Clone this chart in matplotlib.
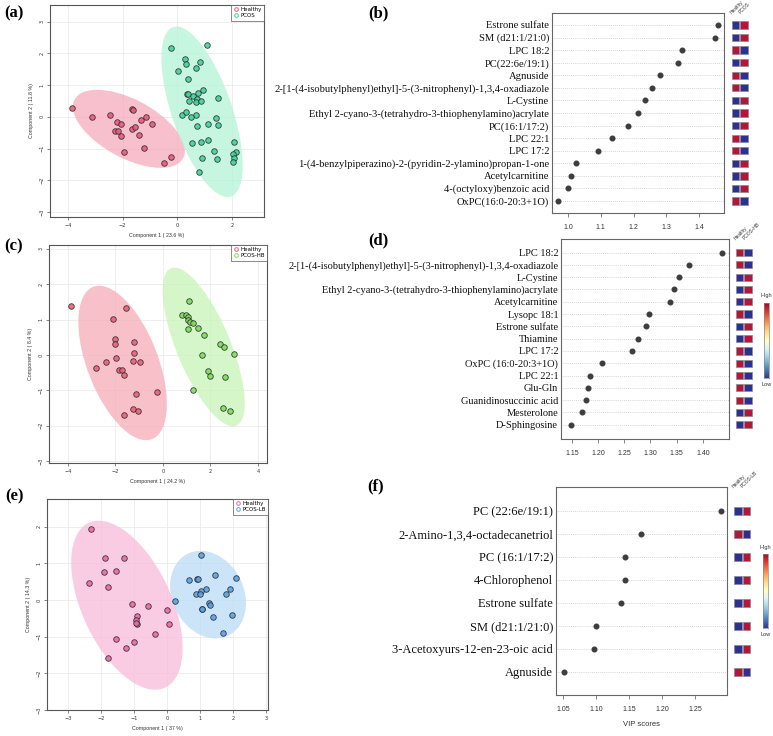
import numpy as np
import matplotlib.pyplot as plt
from matplotlib.patches import Ellipse
from matplotlib.lines import Line2D
from matplotlib.colors import ListedColormap

W, H = 773, 736
SERIF = 'Liberation Serif'
SANS = 'Liberation Sans'

# ---------------- data ----------------
# (a) Healthy vs PCOS
a_healthy_x = [-3.85, -3.12, -2.44, -2.20, -2.05, -2.29, -2.18, -2.06, -1.95, -1.67,
               -1.60, -1.67, -1.55, -1.39, -1.32, -1.13, -0.93, -1.23, -0.50, -0.22]
a_healthy_y = [0.27, -0.01, 0.07, -0.16, -0.23, -0.46, -0.46, -0.60, -1.11, 0.25,
               0.21, -0.38, -0.32, -0.57, -0.10, 0.01, -0.24, -0.97, -1.47, -1.28]
a_pcos_x = [-0.24, 1.07, 0.28, 0.32, 0.84, 0.68, 0.04, 0.38, 0.37, 0.41, 0.94, 0.77, 0.57,
            0.44, 0.72, 0.70, 0.87, 1.49, 0.18, 0.33, 0.70, 0.50, 1.41, 1.49, 1.11, 0.71,
            0.54, 0.88, 1.11, 2.06, 1.33, 1.44, 0.89, 2.13, 2.04, 2.06, 2.05, 0.79]
a_pcos_y = [2.17, 2.27, 1.82, 1.68, 1.74, 1.55, 1.44, 1.18, 0.73, 0.73, 0.85, 0.76, 0.67,
            0.51, 0.56, 0.46, 0.49, 0.60, 0.06, 0.16, 0.07, -0.02, -0.04, -0.26, -0.24, -0.28,
            -0.82, -0.80, -0.72, -0.78, -1.07, -1.32, -1.31, -1.11, -1.16, -1.29, -1.43, -1.74]

# (c) Healthy vs PCOS-HB
c_healthy_x = [-3.86, -1.57, -2.12, -2.01, -2.02, -1.23, -1.21, -1.99, -2.38, -2.82,
               -1.28, -0.98, -1.84, -1.71, -1.63, -1.14, -0.27, -1.26, -1.05, -1.63]
c_healthy_y = [1.38, 1.34, 1.02, 0.44, 0.31, 0.36, 0.05, -0.10, -0.20, -0.38,
               -0.17, -0.21, -0.43, -0.44, -0.58, -1.10, -1.06, -1.54, -1.58, -1.69]
c_hb_x = [1.08, 0.80, 0.98, 1.04, 1.05, 1.15, 1.26, 1.05, 1.49, 1.71,
          2.41, 2.55, 1.64, 2.97, 1.88, 1.96, 2.62, 1.26, 2.54, 2.83]
c_hb_y = [1.52, 1.12, 1.13, 1.07, 1.00, 0.94, 0.90, 0.74, 0.77, 0.55,
          0.31, 0.21, 0.00, 0.03, -0.45, -0.59, -0.64, -1.00, -1.51, -1.58]

# (e) Healthy vs PCOS-LB
e_healthy_x = [-2.32, -1.89, -1.32, -1.91, -1.56, -2.37, -1.80, -1.05, -0.58, 0.01,
               -0.90, -0.93, -0.92, -0.93, 0.05, -0.37, -1.54, -0.99, -1.24, -1.80]
e_healthy_y = [1.95, 1.15, 1.14, 0.77, 0.79, 0.46, 0.37, -0.10, -0.15, -0.27,
               -0.44, -0.55, -0.64, -0.62, -0.64, -0.92, -1.05, -1.15, -1.30, -1.59]
e_lb_x = [1.02, 0.66, 0.91, 0.94, 1.46, 2.10, 1.18, 1.04, 0.88, 0.99,
          1.91, 1.80, 0.23, 1.28, 1.29, 1.07, 1.05, 1.39, 1.96, 1.69]
e_lb_y = [1.22, 0.56, 0.57, 0.57, 0.69, 0.61, 0.29, 0.24, 0.16, 0.18,
          0.29, 0.16, -0.02, -0.09, -0.13, -0.24, -0.25, -0.47, -0.42, -0.91]

# (b) VIP, Healthy vs PCOS  (1 = high in that group)
b_names = ['Estrone sulfate', 'SM (d21:1/21:0)', 'LPC 18:2', 'PC(22:6e/19:1)', 'Agnuside',
           '2-[1-(4-isobutylphenyl)ethyl]-5-(3-nitrophenyl)-1,3,4-oxadiazole', 'L-Cystine',
           'Ethyl 2-cyano-3-(tetrahydro-3-thiophenylamino)acrylate', 'PC(16:1/17:2)',
           'LPC 22:1', 'LPC 17:2', '1-(4-benzylpiperazino)-2-(pyridin-2-ylamino)propan-1-one',
           'Acetylcarnitine', '4-(octyloxy)benzoic acid', 'OxPC(16:0-20:3+1O)']
b_vip = [1.459, 1.450, 1.348, 1.337, 1.282, 1.256, 1.235, 1.215, 1.184, 1.135,
         1.092, 1.023, 1.008, 0.999, 0.969]
b_healthy_high = [0, 0, 1, 0, 1, 1, 0, 0, 0, 1, 1, 0, 0, 0, 1]

# (d) VIP, Healthy vs PCOS-HB
d_names = ['LPC 18:2', '2-[1-(4-isobutylphenyl)ethyl]-5-(3-nitrophenyl)-1,3,4-oxadiazole',
           'L-Cystine', 'Ethyl 2-cyano-3-(tetrahydro-3-thiophenylamino)acrylate',
           'Acetylcarnitine', 'Lysopc 18:1', 'Estrone sulfate', 'Thiamine', 'LPC 17:2',
           'OxPC (16:0-20:3+1O)', 'LPC 22:1', 'Glu-Gln', 'Guanidinosuccinic acid',
           'Mesterolone', 'D-Sphingosine']
d_vip = [1.436, 1.373, 1.355, 1.345, 1.338, 1.297, 1.292, 1.277, 1.265, 1.207,
         1.184, 1.181, 1.176, 1.170, 1.148]
d_healthy_high = [1, 1, 0, 0, 0, 1, 0, 0, 1, 1, 1, 1, 1, 0, 0]

# (f) VIP, Healthy vs PCOS-LB
f_names = ['PC (22:6e/19:1)', '2-Amino-1,3,4-octadecanetriol', 'PC (16:1/17:2)',
           '4-Chlorophenol', 'Estrone sulfate', 'SM (d21:1/21:0)',
           '3-Acetoxyurs-12-en-23-oic acid', 'Agnuside']
f_vip = [1.289, 1.168, 1.144, 1.144, 1.137, 1.099, 1.097, 1.051]
f_healthy_high = [0, 1, 0, 0, 0, 0, 0, 1]


def box(x0, y0, x1, y1):
    return [x0 / W, 1 - y1 / H, (x1 - x0) / W, (y1 - y0) / H]


def conf_ellipse(ax, x, y, color):
    # 95% confidence ellipse from the group's scores
    x, y = np.asarray(x), np.asarray(y)
    vals, vecs = np.linalg.eigh(np.cov(x, y))
    order = vals.argsort()[::-1]
    vals, vecs = vals[order], vecs[:, order]
    angle = np.degrees(np.arctan2(vecs[1, 0], vecs[0, 0]))
    k = np.sqrt(5.991)
    ax.add_patch(Ellipse((x.mean(), y.mean()), 2 * k * np.sqrt(vals[0]), 2 * k * np.sqrt(vals[1]),
                         angle=angle, facecolor=color, edgecolor='none', alpha=0.75, zorder=1))


def pca_panel(rect, groups, xlabel, ylabel, xlim, ylim, xticks, yticks):
    ax = fig.add_axes(rect)
    handles = []
    for x, y, col, ecol, label in groups:
        conf_ellipse(ax, x, y, ecol)
        ax.scatter(x, y, s=16, facecolor=col, edgecolor='#2a2a2a', linewidths=0.6,
                   alpha=0.9, zorder=3)
        handles.append(Line2D([], [], ls='none', marker='o', ms=2.6, mfc='none',
                              mec=col, mew=0.7, label=label))
    ax.set_xlim(xlim)
    ax.set_ylim(ylim)
    ax.set_xticks(xticks)
    ax.set_yticks(yticks)
    ax.grid(color='#ebebeb', lw=0.6)
    ax.set_axisbelow(True)
    for s in ax.spines.values():
        s.set_color('#555555')
        s.set_linewidth(0.8)
    ax.tick_params(labelsize=3.6, length=2, width=0.5, color='#555555', pad=2,
                   labelcolor='#333333')
    for t in ax.get_yticklabels():
        t.set_rotation(90)
        t.set_va('center')
    ax.set_xlabel(xlabel, fontsize=3.8, family=SANS, color='#333333', labelpad=4)
    ax.set_ylabel(ylabel, fontsize=3.8, family=SANS, color='#333333', labelpad=4)
    leg = ax.legend(handles=handles, loc='upper right', bbox_to_anchor=(1, 1),
                    borderaxespad=0, fontsize=4, frameon=True, fancybox=False,
                    handletextpad=0.3, borderpad=0.4, labelspacing=0.2, handlelength=1.0)
    leg.get_frame().set_edgecolor('#555555')
    leg.get_frame().set_linewidth(0.6)
    return ax


def vip_panel(rect, heat_x0, names, vip, healthy_high, xlim, ylim, xticks, fmt, fs,
              header, cbar=None, xlabel=None):
    n = len(names)
    ypos = np.arange(n, 0, -1)
    ax = fig.add_axes(rect)
    ax.hlines(ypos, xlim[0], xlim[1], colors='#c8c8c8', linestyles=(0, (1, 1.5)), lw=0.6, zorder=1)
    ax.scatter(vip, ypos, s=11, color='#3d3d3d', zorder=3)
    ax.set_xlim(xlim)
    ax.set_ylim(ylim)
    ax.set_yticks(ypos)
    ax.set_yticklabels(names, family=SERIF, fontsize=fs, color='#111111')
    ax.tick_params(axis='y', length=0, pad=2)
    ax.set_xticks(xticks)
    ax.set_xticklabels([fmt % v for v in xticks], family=SANS, fontsize=5, color='#333333')
    ax.tick_params(axis='x', length=3, width=0.5, color='#555555', pad=5)
    for s in ax.spines.values():
        s.set_color('#666666')
        s.set_linewidth(0.8)
    if xlabel:
        ax.set_xlabel(xlabel, family=SANS, fontsize=5.5, color='#333333', labelpad=6)

    # group level squares
    pos = ax.get_position()
    hx = fig.add_axes([(heat_x0 - 4.3) / W, pos.y0, 18 / W, pos.height])
    cmap = ListedColormap(['#2a3192', '#b3163a'])
    hh = np.array(healthy_high)
    for col, vals in enumerate([hh, 1 - hh]):
        hx.scatter(np.full(n, col), ypos, c=vals, cmap=cmap, vmin=0, vmax=1, marker='s',
                   s=27, edgecolors='#8a8a8a', linewidths=0.5)
    hx.set_xlim(-0.5, 1.6)
    hx.set_ylim(ylim)
    hx.axis('off')
    tr = hx.get_xaxis_transform()
    for i, lab in enumerate(['Healthy', header]):
        hx.text(i - 0.35, 0.99, lab, transform=tr, rotation=45, rotation_mode='anchor',
                ha='left', va='bottom', fontsize=3.5, family=SANS, color='#333333')

    if cbar:
        cax = fig.add_axes(box(*cbar))
        cax.imshow(np.linspace(0, 1, 256).reshape(-1, 1), aspect='auto', cmap='RdYlBu_r',
                   origin='lower')
        cax.set_xticks([])
        cax.set_yticks([])
        for s in cax.spines.values():
            s.set_color('#888888')
            s.set_linewidth(0.5)
        cax.text(0.5, 1.06, 'High', transform=cax.transAxes, ha='center', va='bottom',
                 fontsize=4, family=SANS, color='#333333')
        cax.text(0.5, -0.06, 'Low', transform=cax.transAxes, ha='center', va='top',
                 fontsize=4, family=SANS, color='#333333')
    return ax


fig = plt.figure(figsize=(W / 100, H / 100), dpi=100)

pca_panel(box(50, 5, 264, 217),
          [(a_healthy_x, a_healthy_y, '#ea5a7c', '#f6aabd', 'Healthy'),
           (a_pcos_x, a_pcos_y, '#3fd49a', '#b4f3d6', 'PCOS')],
          'Component 1 ( 23.6 %)', 'Component 2 ( 11.8 %)',
          (-4.65, 3.17), (-3.16, 3.53), [-4, -2, 0, 2], [-3, -2, -1, 0, 1, 2, 3])

pca_panel(box(49, 245, 267, 463),
          [(c_healthy_x, c_healthy_y, '#ea6079', '#f6adb9', 'Healthy'),
           (c_hb_x, c_hb_y, '#7ddd5c', '#c6f4b6', 'PCOS-HB')],
          'Component 1 ( 24.2 %)', 'Component 2 ( 8.4 %)',
          (-4.8, 4.38), (-3.06, 3.11), [-4, -2, 0, 2, 4], [-3, -2, -1, 0, 1, 2, 3])

pca_panel(box(47, 499, 268, 710),
          [(e_healthy_x, e_healthy_y, '#ea68a4', '#f9bcdc', 'Healthy'),
           (e_lb_x, e_lb_y, '#5aa2e6', '#bcdcf6', 'PCOS-LB')],
          'Component 1 ( 37 %)', 'Component 2 ( 14.3 %)',
          (-3.64, 3.06), (-3.0, 2.76), [-3, -2, -1, 0, 1, 2, 3], [-3, -2, -1, 0, 1, 2])

vip_panel(box(552, 13, 724, 213), 735.5, b_names, b_vip, b_healthy_high,
          (0.951, 1.476), (0.05, 15.95), [1.0, 1.1, 1.2, 1.3, 1.4], '%.1f', 7.6, 'PCOS')

vip_panel(box(561, 239, 729, 439), 739.5, d_names, d_vip, d_healthy_high,
          (1.129, 1.45), (-0.16, 16.1), [1.15, 1.20, 1.25, 1.30, 1.35, 1.40], '%.2f', 7.5,
          'PCOS-HB', cbar=(764, 303, 769, 378))

vip_panel(box(556, 487, 727, 695), 738, f_names, f_vip, f_healthy_high,
          (1.039, 1.298), (0.0, 9.04), [1.05, 1.10, 1.15, 1.20, 1.25], '%.2f', 9.0,
          'PCOS-LB', cbar=(763, 554, 768, 628), xlabel='VIP scores')

for lab, px, py in [('(a)', 4, 13), ('(b)', 368, 13), ('(c)', 4, 246),
                    ('(d)', 368, 240), ('(e)', 5, 496), ('(f)', 367, 486)]:
    fig.text(px / W, 1 - py / H, lab, family=SERIF, weight='bold', fontsize=12,
             ha='left', va='center')

fig.savefig('out.png', dpi=100)
